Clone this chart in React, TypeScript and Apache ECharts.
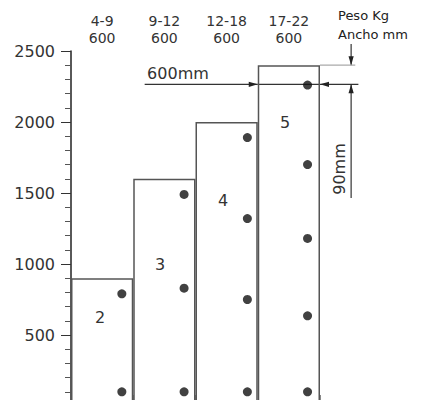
import React, { useEffect, useRef } from 'react';
import * as echarts from 'echarts';

// Top axis: age range (Peso Kg) / width in mm (Ancho mm)
const categories = ['4-9\n600', '9-12\n600', '12-18\n600', '17-22\n600'];
// Height of each step (mm)
const stepHeights = [900, 1600, 2000, 2400];
// Y axis
const yMin = 0;
const yMax = 2500;
const yInterval = 500;
// Hidden width axis (mm): 4 columns x 600 mm
const widthMax = 2400;

// Dots (x in mm along the width, y height)
const dotsX = [490, 1090, 1700, 2280];
const dotsY = [
  [790, 100],
  [1490, 830, 100],
  [1890, 1320, 750, 100],
  [2260, 1700, 1180, 635, 100],
];

// Compartment numbers
const compartmentLabels = ['2', '3', '4', '5'];
const compartmentX = [280, 858, 1465, 2063];
const compartmentY = [620, 1000, 1450, 2000];

// Dimension annotations [x1, y1, x2, y2, arrowAtEnd, light]
const dimSegments = [
  [710, 2265, 1800, 2265, 1, 0],
  [1800, 2265, 2400, 2265, 0, 0],
  [2770, 2265, 2400, 2265, 1, 0],
  [2700, 2550, 2700, 2400, 1, 0],
  [2700, 1465, 2700, 2265, 1, 0],
  [2400, 2400, 2740, 2400, 0, 1],
];
const dimTexts = ['600mm', '90mm'];
const dimTextX = [1031, 2590];
const dimTextY = [2345, 1669];
const dimTextRot = [0, 1];

const FONT = 'DejaVu Sans';

export default function App() {
  const ref = useRef<HTMLDivElement>(null);
  useEffect(() => {
    if (!ref.current) return;
    const chart = echarts.init(ref.current, undefined, { renderer: 'svg' });

    const dotData: number[][] = [];
    dotsX.forEach((x, i) => dotsY[i].forEach((y) => dotData.push([x, y])));

    const option: any = {
      animation: false,
      textStyle: { fontFamily: FONT },
      grid: { left: 71, width: 249, top: 51, height: 355, outerBoundsMode: 'none', containLabel: false },
      xAxis: [
        {
          type: 'category',
          position: 'top',
          data: categories,
          boundaryGap: true,
          axisLine: { lineStyle: { color: '#555', width: 1 } },
          axisTick: { show: true, length: 11, lineStyle: { color: '#888' } },
          axisLabel: { color: '#333', fontSize: 14, lineHeight: 17, margin: 5, fontFamily: FONT },
          splitLine: { show: false },
        },
        {
          type: 'value',
          min: 0,
          max: widthMax,
          show: false,
        },
      ],
      yAxis: {
        type: 'value',
        min: yMin,
        max: yMax,
        interval: yInterval,
        axisLine: { show: true, lineStyle: { color: '#222', width: 1.5 } },
        axisTick: { show: true, length: 10, lineStyle: { color: '#333' } },
        minorTick: { show: true, splitNumber: 5, length: 6, lineStyle: { color: '#555' } },
        axisLabel: {
          color: '#333',
          fontSize: 16,
          margin: 16,
          showMinLabel: false,
          fontFamily: FONT,
          formatter: (v: number) => String(v),
        },
        splitLine: { show: false },
        minorSplitLine: { show: false },
      },
      graphic: [
        {
          type: 'text',
          left: 338,
          top: 6,
          style: {
            text: 'Peso Kg\nAncho mm',
            font: `13px "${FONT}"`,
            lineHeight: 19,
            fill: '#222',
          },
        },
      ],
      series: [
        {
          type: 'bar',
          xAxisIndex: 0,
          data: stepHeights,
          barWidth: '100%',
          barCategoryGap: 0,
          itemStyle: { color: 'rgba(0,0,0,0)', borderColor: '#555', borderWidth: 1.5 },
          silent: true,
        },
        {
          type: 'scatter',
          xAxisIndex: 1,
          data: dotData,
          symbolSize: 9,
          itemStyle: { color: '#111' },
        },
        {
          type: 'custom',
          xAxisIndex: 1,
          clip: false,
          data: dimSegments,
          renderItem: (params: any, api: any) => {
            const p1 = api.coord([api.value(0), api.value(1)]);
            const p2 = api.coord([api.value(2), api.value(3)]);
            const arrow = api.value(4);
            const light = api.value(5);
            const children: any[] = [
              {
                type: 'line',
                shape: { x1: p1[0], y1: p1[1], x2: p2[0], y2: p2[1] },
                style: { stroke: light ? '#aaa' : '#333', lineWidth: 1.2 },
              },
            ];
            if (arrow) {
              const dx = p2[0] - p1[0];
              const dy = p2[1] - p1[1];
              const len = Math.sqrt(dx * dx + dy * dy) || 1;
              const ux = dx / len;
              const uy = dy / len;
              const L = 9;
              const W = 2.6;
              const bx = p2[0] - ux * L;
              const by = p2[1] - uy * L;
              children.push({
                type: 'polygon',
                shape: {
                  points: [
                    [p2[0], p2[1]],
                    [bx - uy * W, by + ux * W],
                    [bx + uy * W, by - ux * W],
                  ],
                },
                style: { fill: '#222' },
              });
            }
            return { type: 'group', children };
          },
        },
        {
          type: 'custom',
          xAxisIndex: 1,
          clip: false,
          data: compartmentLabels.map((_, i) => [compartmentX[i], compartmentY[i]]),
          renderItem: (params: any, api: any) => {
            const p = api.coord([api.value(0), api.value(1)]);
            return {
              type: 'text',
              x: p[0],
              y: p[1],
              style: {
                text: compartmentLabels[params.dataIndex],
                font: `16px "${FONT}"`,
                fill: '#333',
                align: 'center',
                verticalAlign: 'middle',
              },
            };
          },
        },
        {
          type: 'custom',
          xAxisIndex: 1,
          clip: false,
          data: dimTexts.map((_, i) => [dimTextX[i], dimTextY[i]]),
          renderItem: (params: any, api: any) => {
            const p = api.coord([api.value(0), api.value(1)]);
            const i = params.dataIndex;
            return {
              type: 'text',
              x: p[0],
              y: p[1],
              rotation: dimTextRot[i] ? Math.PI / 2 : 0,
              style: {
                text: dimTexts[i],
                font: `16px "${FONT}"`,
                fill: '#333',
                align: 'center',
                verticalAlign: 'middle',
              },
            };
          },
        },
      ],
    };
    chart.setOption(option);
    return () => chart.dispose();
  }, []);
  return (
    <div
      ref={ref}
      style={{ position: 'fixed', left: 0, top: 0, width: 426, height: 400, background: '#fff' }}
    />
  );
}
